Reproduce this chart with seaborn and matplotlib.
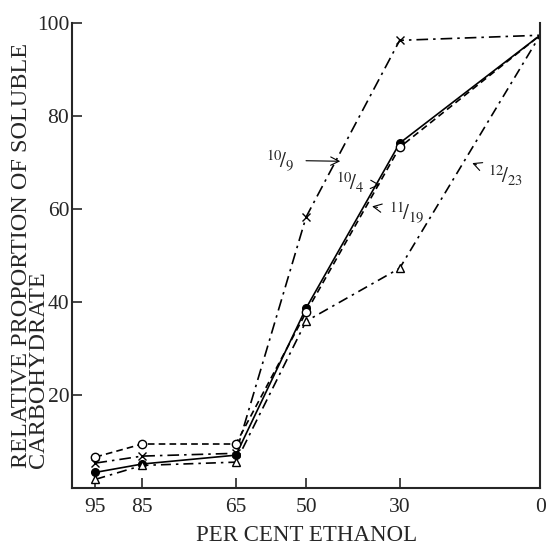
import numpy as np
import pandas as pd
import matplotlib.pyplot as plt
import seaborn as sns

# per cent ethanol (x axis runs 100 -> 0)
ethanol = [95, 85, 65, 50, 30, 0]

# relative proportion of soluble carbohydrate
oct9 = [5.4, 6.9, 7.5, 58.3, 96.3, 97.4]
oct4 = [3.4, 5.2, 7.1, 38.7, 74.2, 97.4]
nov19 = [6.7, 9.5, 9.5, 37.8, 73.3, 97.4]
dec23 = [1.9, 4.9, 5.6, 35.9, 47.3, 97.4]

series = {'10/9': oct9, '10/4': oct4, '11/19': nov19, '12/23': dec23}

df = pd.concat([pd.DataFrame({'ethanol': ethanol, 'value': v, 'date': k})
                for k, v in series.items()], ignore_index=True)

sns.set_style('ticks')
plt.rcParams['font.family'] = ['Liberation Serif', 'DejaVu Serif']
plt.rcParams['mathtext.fontset'] = 'stix'

# line / marker look for each date
looks = {
    '10/9': dict(ls=(0, (7, 3, 1.5, 3)), marker='x', mfc='black', ms=6),
    '10/4': dict(ls='-', marker='o', mfc='black', ms=5.5),
    '11/19': dict(ls=(0, (4, 2.5)), marker='o', mfc='white', ms=6),
    '12/23': dict(ls=(0, (6, 3, 1.5, 3)), marker='^', mfc='white', ms=6),
}

fig = plt.figure(figsize=(5.5, 5.51), dpi=100)
ax = fig.add_axes([0.131, 0.114, 0.851, 0.844])

for name, look in looks.items():
    sub = df[df['date'] == name]
    sns.lineplot(data=sub, x='ethanol', y='value', ax=ax, sort=False,
                 color='black', linewidth=1.2, linestyle=look['ls'],
                 marker=look['marker'], markerfacecolor=look['mfc'],
                 markeredgecolor='black', markersize=look['ms'],
                 markeredgewidth=1.0, markevery=slice(0, 5))

ax.set_xlim(100, 0)
ax.set_ylim(0, 100)
ax.set_xticks(ethanol)
ax.set_yticks([20, 40, 60, 80, 100])
ax.tick_params(direction='in', length=7, width=1.2, labelsize=15.5)
ax.tick_params(axis='x', pad=7)
ax.tick_params(axis='y', pad=2)

ax.set_xlabel('PER CENT ETHANOL', fontsize=16.5, labelpad=6)
ax.set_ylabel('RELATIVE PROPORTION OF SOLUBLE\nCARBOHYDRATE', fontsize=17.5,
              multialignment='left', linespacing=0.75)
ax.yaxis.set_label_coords(-0.05, 0.5)

ax.spines['top'].set_visible(False)
for s in ['left', 'bottom', 'right']:
    ax.spines[s].set_linewidth(1.5)

# date labels with arrows
notes = [
    (r'$^{10}\!/_{9}$', (42.7, 70.3), (55.5, 70.5)),
    (r'$^{10}\!/_{4}$', (34.2, 65.2), (40.5, 65.6)),
    (r'$^{11}\!/_{19}$', (35.9, 60.6), (28.5, 59.2)),
    (r'$^{12}\!/_{23}$', (14.5, 69.9), (7.5, 67.2)),
]
for txt, tip, pos in notes:
    ax.annotate(txt, xy=tip, xytext=pos, fontsize=15, ha='center', va='center',
                arrowprops=dict(arrowstyle='->', color='black', lw=0.8,
                                shrinkA=6, shrinkB=0))

fig.savefig('out.png', dpi=100)
